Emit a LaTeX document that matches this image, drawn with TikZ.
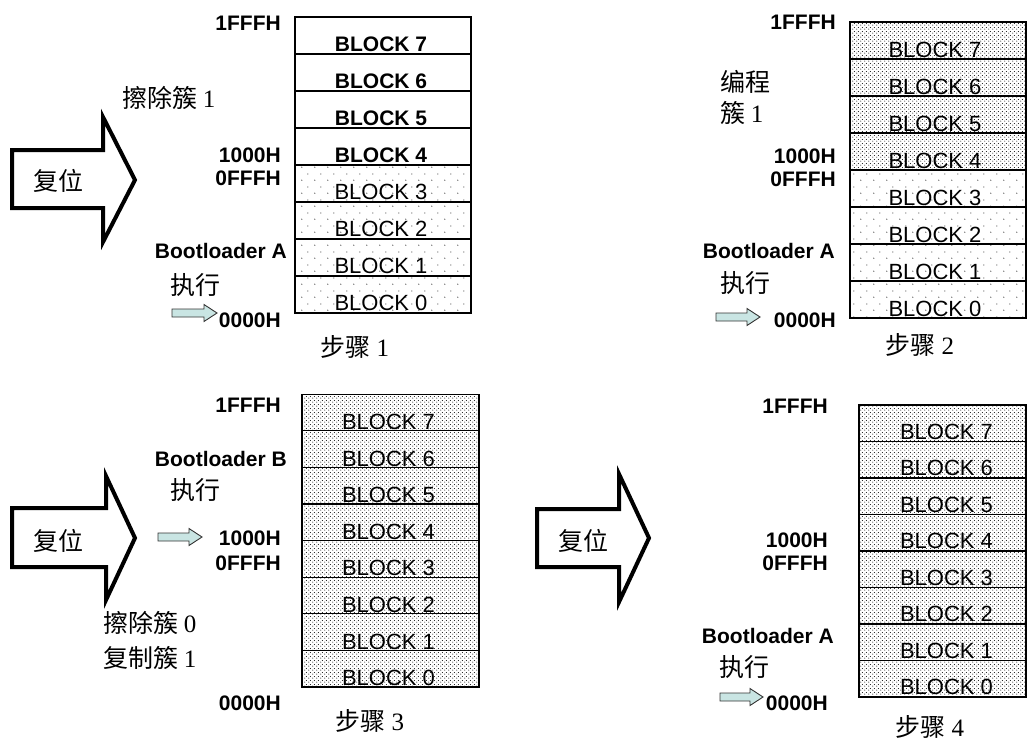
\documentclass[tikz,border=0pt]{standalone}
\usepackage{fontspec}
\setmainfont{Liberation Sans}
\newfontfamily\cjk{Noto Sans CJK SC}
\newfontfamily\tms{Liberation Serif}
\usetikzlibrary{patterns}
\pgfdeclarepatternformonly{sparsedots}{\pgfqpoint{0pt}{0pt}}{\pgfqpoint{13pt}{13pt}}{\pgfqpoint{13pt}{13pt}}{%
 \pgfpathcircle{\pgfqpoint{3pt}{3pt}}{0.6pt}\pgfpathcircle{\pgfqpoint{9.5pt}{9.5pt}}{0.6pt}\pgfusepath{fill}}
\pgfdeclarepatternformonly{densedots}{\pgfqpoint{0pt}{0pt}}{\pgfqpoint{4pt}{4pt}}{\pgfqpoint{4pt}{4pt}}{%
 \pgfpathcircle{\pgfqpoint{1pt}{1pt}}{0.6pt}\pgfpathcircle{\pgfqpoint{3pt}{3pt}}{0.6pt}\pgfusepath{fill}}
\definecolor{arrfill}{HTML}{C9E5E3}
\newcommand\sarr[3]{\draw[smallarrow] (#1,{#3-4}) -- ({#2-13},{#3-4}) -- ({#2-13},{#3-8.5}) -- (#2,#3) -- ({#2-13},{#3+8.5}) -- ({#2-13},{#3+4}) -- (#1,{#3+4}) -- cycle;}
\tikzset{
 blk/.style={draw=black, line width=1.2pt, minimum width=176pt, inner sep=0pt},
 sparse/.style={pattern=sparsedots, pattern color=black},
 dense/.style={pattern=densedots, pattern color=black},
 plain/.style={fill=white},
 btxt/.style={anchor=base, inner sep=0pt, font=\fontsize{22}{22}\selectfont},
 btxtb/.style={anchor=base, inner sep=0pt, font=\fontsize{21}{21}\selectfont\bfseries},
 addr/.style={anchor=east, inner sep=0pt, font=\fontsize{21}{21}\selectfont\bfseries},
 cjkl/.style={inner sep=0pt, font=\cjk\fontsize{25}{25}\selectfont},
 bigarrow/.style={draw=black, line width=4pt, fill=white, miter limit=10},
 smallarrow/.style={draw=black!80, line width=0.9pt, fill=arrfill},
 p1fill/.code={\ifnum#1<4 \tikzset{sparse}\else\tikzset{plain}\fi},
 p1font/.code={\ifnum#1<4 \tikzset{btxt}\else\tikzset{btxtb}\fi},
 p2fill/.code={\ifnum#1<4 \tikzset{sparse}\else\tikzset{dense}\fi},
}
\begin{document}
\begin{tikzpicture}[x=1pt,y=-1pt]
\useasboundingbox (0,0) rectangle (1027,742);

% ---------------- Panel 1 ----------------
\foreach \i in {0,...,7}{
  \node[blk, p1fill=\i, minimum height=37pt] (p1b\i) at (383,{313-37*\i-18.5}) {};
  \node[p1font=\i] (p1t\i) at ([xshift=-2pt,yshift=3pt]p1b\i.south) {BLOCK \i};
}
\node[addr] (p1a) at (281,23) {1FFFH};
\node[addr] (p1b) at (281,155) {1000H};
\node[addr] (p1c) at (281,178) {0FFFH};
\node[addr] (p1d) at (287,251) {Bootloader A};
\node[addr] (p1e) at (281,320) {0000H};
\node[cjkl, anchor=west] (p1x) at (170,285) {执行};
\node[cjkl, anchor=west] (p1y) at (122,98) {擦除簇 {\tms 1}};
\node[cjkl] (p1s) at (355,347) {步骤 {\tms 1}};
\draw[bigarrow] (12,150) -- (103,150) -- (103,117) -- (135,180) -- (103,242) -- (103,208) -- (12,208) -- cycle;
\node[cjkl] (p1r) at (58,181) {复位};
\sarr{172}{217}{313}

% ---------------- Panel 2 ----------------
\foreach \i in {0,...,7}{
  \node[blk, p2fill=\i, minimum height=37pt] (p2b\i) at (938,{318-37*\i-18.5}) {};
  \node[btxt] (p2t\i) at ([xshift=-3pt,yshift=2pt]p2b\i.south) {BLOCK \i};
}
\node[addr] (p2a) at (836,22) {1FFFH};
\node[addr] (p2b) at (836,156) {1000H};
\node[addr] (p2c) at (836,179) {0FFFH};
\node[addr] (p2d) at (835,251) {Bootloader A};
\node[addr] (p2e) at (836,320) {0000H};
\node[cjkl, anchor=west] (p2x) at (720,283) {执行};
\node[cjkl, anchor=west] (p2y) at (720,82) {编程};
\node[cjkl, anchor=west] (p2z) at (720,113) {簇 {\tms 1}};
\node[cjkl] (p2s) at (920,345) {步骤 {\tms 2}};
\sarr{716}{760}{317}

% ---------------- Panel 3 ----------------
\foreach \i in {0,...,7}{
  \node[blk, dense, minimum height=36.6pt, minimum width=177pt] (p3b\i) at (390.5,{687-36.6*\i-18.3}) {};
  \node[btxt] (p3t\i) at ([xshift=-2pt,yshift=2pt]p3b\i.south) {BLOCK \i};
}
\node[addr] (p3a) at (281,405) {1FFFH};
\node[addr] (p3d) at (287,459) {Bootloader B};
\node[addr] (p3b) at (281,538) {1000H};
\node[addr] (p3c) at (281,563) {0FFFH};
\node[addr] (p3e) at (281,703) {0000H};
\node[cjkl, anchor=west] (p3x) at (170,490) {执行};
\node[cjkl, anchor=west] (p3y) at (103,623) {擦除簇 {\tms 0}};
\node[cjkl, anchor=west] (p3z) at (103,658) {复制簇 {\tms 1}};
\node[cjkl] (p3s) at (370,721) {步骤 {\tms 3}};
\draw[bigarrow] (12,508) -- (106,508) -- (106,476) -- (135,538) -- (106,600) -- (106,567) -- (12,567) -- cycle;
\node[cjkl] (p3r) at (58,541) {复位};
\sarr{158}{202}{537}

% ---------------- Panel 4 ----------------
\foreach \i in {0,...,7}{
  \node[blk, dense, minimum height=36.5pt, minimum width=167pt] (p4b\i) at (942.5,{697-36.5*\i-18.25}) {};
  \node[btxt] (p4t\i) at ([xshift=4pt,yshift=3pt]p4b\i.south) {BLOCK \i};
}
\node[addr] (p4a) at (828,406) {1FFFH};
\node[addr] (p4b) at (828,540) {1000H};
\node[addr] (p4c) at (828,563) {0FFFH};
\node[addr] (p4d) at (834,636) {Bootloader A};
\node[addr] (p4e) at (828,703) {0000H};
\node[cjkl, anchor=west] (p4x) at (719,667) {执行};
\node[cjkl] (p4s) at (930,727) {步骤 {\tms 4}};
\draw[bigarrow] (537,509) -- (619,509) -- (619,474) -- (649,538) -- (619,602) -- (619,567) -- (537,567) -- cycle;
\node[cjkl] (p4r) at (583,541) {复位};
\sarr{720}{763}{697}
\end{tikzpicture}
\end{document}
